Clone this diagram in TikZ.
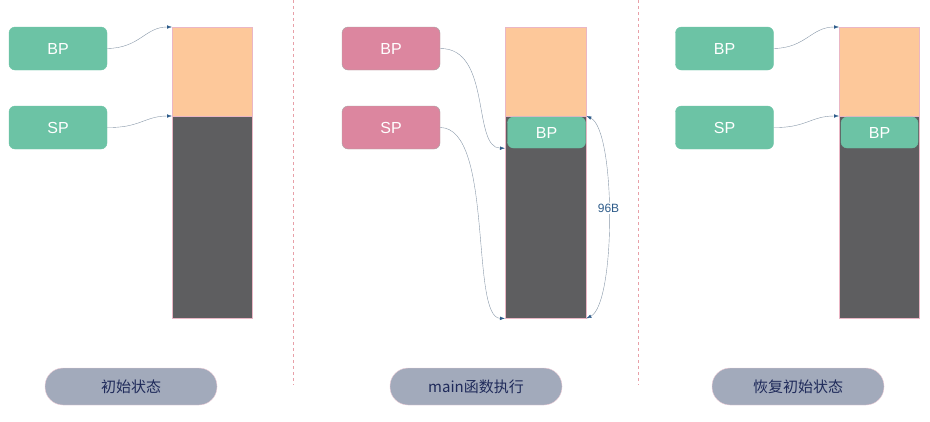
\documentclass[tikz,border=0pt]{standalone}
\usepackage{fontspec}
\setmainfont{Liberation Sans}
\newfontfamily\cjk{Noto Sans CJK SC}
\usetikzlibrary{arrows.meta}
\definecolor{RegGreen}{HTML}{6CC3A5}
\definecolor{RegPink}{HTML}{DC869F}
\definecolor{StackOld}{HTML}{FDC89A}
\definecolor{StackUsed}{HTML}{5E5E60}
\definecolor{PillGray}{HTML}{A2AABB}
\definecolor{PillText}{HTML}{1F2A5A}
\definecolor{LinkLine}{HTML}{8797A8}
\definecolor{LinkTip}{HTML}{2E5C8A}
\definecolor{Divider}{HTML}{E8A0A8}

\tikzset{
  reg/.style={rounded corners=6pt,minimum width=98pt,minimum height=43pt,
    inner sep=0pt,text=white,font=\fontsize{16}{19}\selectfont},
  reggreen/.style={reg,fill=RegGreen,draw=RegGreen},
  regpink/.style={reg,fill=RegPink,draw=gray!70},
  savedbp/.style={reggreen,minimum width=78pt,minimum height=31pt},
  stackpart/.style={anchor=north west,inner sep=0pt,minimum width=80pt,draw=RegPink!60},
  link/.style={LinkLine,thin,-{Latex[length=5pt,width=3.5pt,color=LinkTip]}},
  pill/.style={rounded corners=18pt,minimum width=172pt,minimum height=37pt,
    fill=PillGray,draw=RegPink!40,text=PillText,font=\cjk\fontsize{15}{18}\selectfont},
  divline/.style={Divider,dashed,thin}
}

\begin{document}
\begin{tikzpicture}[x=1pt,y=-1pt]
  \useasboundingbox (0,0) rectangle (930,421);

  % Panel 1: initial state
  \node[reggreen] (bpA) at (58,48.5) {BP};
  \node[reggreen] (spA) at (58,127.5) {SP};
  \node[stackpart,fill=StackOld,minimum height=89pt] (oldA) at (172,27) {};
  \node[stackpart,fill=StackUsed,minimum height=202pt] (useA) at (172,116) {};
  \draw[link] (bpA.east) .. controls (140,48) and (145,27) .. (oldA.north west);
  \draw[link] (spA.east) .. controls (140,128) and (145,116) .. (useA.north west);
  \node[pill] (capA) at (131,386.5) {初始状态};

  % Dividers
  \coordinate (divA1) at (293,0);
  \coordinate (divA2) at (293,385);
  \coordinate (divB1) at (638,0);
  \coordinate (divB2) at (638,385);
  \draw[divline] (divA1) -- (divA2);
  \draw[divline] (divB1) -- (divB2);

  % Panel 2: main running
  \node[regpink] (bpB) at (391,48.5) {BP};
  \node[regpink] (spB) at (391,127.5) {SP};
  \node[stackpart,fill=StackOld,minimum height=89pt,minimum width=81pt] (oldB) at (505,27) {};
  \node[stackpart,fill=StackUsed,minimum height=202pt,minimum width=81pt] (useB) at (505,116) {};
  \node[savedbp] (keepB) at (546.5,132.5) {BP};
  \draw[link] (bpB.east) .. controls (492,48) and (472,148) .. (keepB.south west -| useB.west);
  \draw[link] (spB.east) .. controls (494,128) and (470,318) .. (useB.south west);
  \draw[link,{Latex[length=5pt,width=3.5pt,color=LinkTip]}-{Latex[length=5pt,width=3.5pt,color=LinkTip]}]
    (useB.north east) .. controls (616,130) and (616,304)
    .. node[pos=0.47,fill=white,inner sep=1pt,text=LinkTip,font=\fontsize{12}{14}\selectfont] (sizeB) {96B}
    (useB.south east);
  \node[pill] (capB) at (476,386.5) {main函数执行};

  % Panel 3: back to initial state
  \node[reggreen] (bpC) at (724.5,48.5) {BP};
  \node[reggreen] (spC) at (724.5,127.5) {SP};
  \node[stackpart,fill=StackOld,minimum height=89pt] (oldC) at (839,27) {};
  \node[stackpart,fill=StackUsed,minimum height=202pt] (useC) at (839,116) {};
  \node[savedbp,minimum width=77pt] (keepC) at (879.5,132.5) {BP};
  \draw[link] (bpC.east) .. controls (806,48) and (811,27) .. (oldC.north west);
  \draw[link] (spC.east) .. controls (806,128) and (811,116) .. (useC.north west);
  \node[pill] (capC) at (798,386.5) {恢复初始状态};
\end{tikzpicture}
\end{document}
